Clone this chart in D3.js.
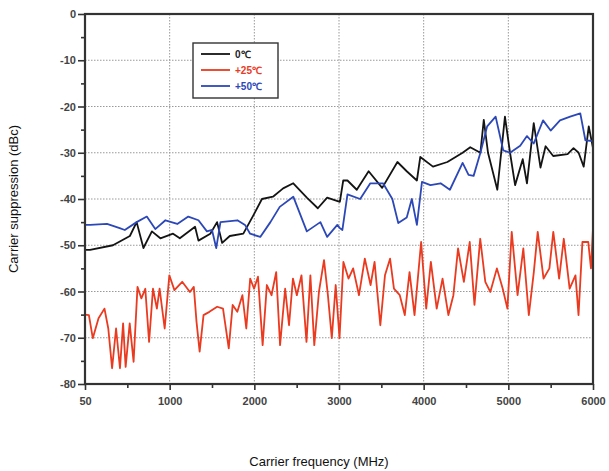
<!DOCTYPE html>
<html>
<head>
<meta charset="utf-8">
<script src="https://cdn.jsdelivr.net/npm/d3@7"></script>
<style>
  body { margin: 0; background: #fff; }
  text { font-family: "Liberation Sans", Arial, sans-serif; }
</style>
</head>
<body>
<svg class="chart" width="609" height="471"></svg>
<script>
const width = 609
const height = 471
const margin = { top: 14, right: 16, bottom: 87, left: 85 }

const xTicks = [0, 1000, 2000, 3000, 4000, 5000, 6000]
const xTickLabels = ['50', '1000', '2000', '3000', '4000', '5000', '6000']
const yTicks = [0, -10, -20, -30, -40, -50, -60, -70, -80]

const seriesNames = ['0\u2103', '+25\u2103', '+50\u2103']
const seriesColors = ['#141414', '#ea3a1f', '#2c48b8']

// 0 °C  [MHz, dBc]
const black = [
  [0, -51], [60, -51], [330, -50], [530, -48], [610, -45], [690, -50.6], [790, -47],
  [890, -48.5], [1040, -47.5], [1120, -48.5], [1300, -46], [1340, -49], [1480, -47.5],
  [1560, -45], [1620, -49.5], [1710, -48], [1870, -47.5], [1990, -43.5], [2090, -40],
  [2220, -39.5], [2340, -37.7], [2460, -36.6], [2620, -39.7], [2750, -42], [2860, -39.7],
  [3010, -40.6], [3050, -36], [3100, -36], [3210, -38], [3350, -34], [3510, -37.6],
  [3690, -32], [3800, -34], [3920, -36], [3960, -30.9], [4110, -33], [4280, -32],
  [4460, -30], [4550, -28.8], [4670, -30], [4710, -22.9], [4760, -30], [4870, -38],
  [4960, -22.2], [5020, -30], [5080, -37], [5170, -31.4], [5220, -36.6], [5300, -23.6],
  [5380, -33.2], [5440, -28.6], [5530, -30.7], [5700, -30.3], [5770, -29], [5830, -30],
  [5890, -33], [5950, -24.3], [6000, -29]
]

// +25 °C
const red = [
  [0, -65], [46, -65.1], [92, -70.1], [160, -65.8], [230, -63.7], [275, -68], [320, -76.6],
  [367, -68], [413, -76.6], [450, -66.9], [480, -76.3], [528, -66.9], [574, -75.2],
  [620, -59], [666, -61.5], [712, -59.4], [757, -70.9], [803, -59.4], [849, -63.7],
  [881, -59.4], [941, -68], [996, -56.5], [1056, -59.7], [1148, -57.9], [1239, -60.1],
  [1285, -59], [1317, -66.5], [1354, -73], [1400, -65.1], [1469, -64.4], [1561, -63.3],
  [1630, -63.7], [1698, -72.3], [1744, -62.9], [1799, -64.4], [1859, -60.8], [1905, -68],
  [1951, -57.2], [1997, -59.4], [2043, -56.8], [2098, -71.6], [2148, -58.6], [2203, -60.8],
  [2258, -55.8], [2304, -71.6], [2364, -59.4], [2410, -67.3], [2456, -57.2], [2502, -60.8],
  [2557, -56.5], [2616, -70.9], [2662, -56.5], [2708, -71.6], [2763, -60.1], [2823, -53.2],
  [2869, -60.8], [2915, -70.1], [2961, -58.6], [3006, -70.1], [3052, -53.6], [3112, -57.2],
  [3167, -55], [3236, -60.8], [3305, -52.9], [3373, -58.6], [3420, -53.6], [3488, -67.3],
  [3543, -56.5], [3603, -52.9], [3649, -59.4], [3718, -60.8], [3777, -65.1], [3833, -55.8],
  [3892, -65.1], [3970, -49.3], [4030, -63.7], [4085, -53.6], [4154, -63.7], [4223, -57.2],
  [4292, -65.1], [4351, -60.8], [4406, -50.7], [4475, -57.9], [4544, -49.3], [4600, -62.9],
  [4668, -48.6], [4728, -57.9], [4787, -60.1], [4865, -55], [4934, -59.4], [4989, -63.7],
  [5040, -47.1], [5109, -60.8], [5177, -50.7], [5242, -65.1], [5301, -55.8], [5347, -47.1],
  [5416, -57.2], [5485, -55], [5531, -47.1], [5600, -57.2], [5655, -48.6], [5724, -59.4],
  [5793, -56.5], [5829, -65.1], [5875, -49.3], [5944, -49.3], [5976, -55], [6000, -46.4]
]

// +50 °C
const blue = [
  [0, -45.6], [60, -45.6], [260, -45.4], [410, -46.3], [470, -46.7], [610, -45], [730, -43.8],
  [830, -46.5], [950, -44.6], [1090, -45.4], [1220, -43.8], [1340, -44.6], [1440, -47],
  [1500, -46.7], [1550, -50.6], [1600, -45], [1800, -44.6], [1890, -45.6], [1950, -47.5],
  [2070, -48.2], [2190, -45], [2300, -41.7], [2460, -39.5], [2620, -47], [2780, -45],
  [2860, -48.2], [2980, -45.6], [3010, -46.3], [3040, -46.7], [3100, -39], [3250, -40],
  [3370, -36.6], [3520, -36.6], [3630, -40], [3700, -45.2], [3800, -44], [3860, -40],
  [3920, -45.6], [3980, -36.3], [4080, -37], [4200, -36.6], [4310, -38], [4460, -32.2],
  [4530, -34.8], [4590, -35], [4670, -30], [4750, -24.3], [4850, -22.2], [4940, -29.5],
  [5020, -30], [5140, -28.5], [5220, -26.4], [5300, -28], [5410, -23], [5500, -25.2],
  [5610, -23], [5730, -22.2], [5850, -21.5], [5910, -27.3], [6000, -27.5]
]

const x = d3.scaleLinear().domain([0, 6000]).range([margin.left, width - margin.right])
const y = d3.scaleLinear().domain([0, -80]).range([margin.top, height - margin.bottom])

const svg = d3.select('.chart')

// grid
svg.append('g')
  .attr('stroke', '#999')
  .attr('stroke-dasharray', '1.5,1.5')
  .call(g => g.selectAll('line.v').data(xTicks.slice(1, -1)).join('line')
    .attr('x1', d => x(d)).attr('x2', d => x(d))
    .attr('y1', y(0)).attr('y2', y(-80)))
  .call(g => g.selectAll('line.h').data(yTicks.slice(1, -1)).join('line')
    .attr('class', 'h')
    .attr('x1', x(0)).attr('x2', x(6000))
    .attr('y1', d => y(d)).attr('y2', d => y(d)))

// series
const line = d3.line().x(d => x(d[0])).y(d => y(d[1]))
;[black, red, blue].forEach((data, i) => {
  svg.append('path')
    .datum(data)
    .attr('fill', 'none')
    .attr('stroke', seriesColors[i])
    .attr('stroke-width', 1.8)
    .attr('stroke-linejoin', 'round')
    .attr('d', line)
})

// axes
const xAxis = svg.append('g')
  .attr('transform', `translate(0,${y(-80)})`)
  .call(d3.axisBottom(x).tickValues(d3.range(0, 6001, 500)).tickSize(5)
    .tickFormat(d => { const k = xTicks.indexOf(d); return k >= 0 ? xTickLabels[k] : '' }))
xAxis.selectAll('.tick line').attr('y2', d => d % 1000 === 0 ? 6 : 4)

const yAxis = svg.append('g')
  .attr('transform', `translate(${x(0)},0)`)
  .call(d3.axisLeft(y).tickValues(d3.range(0, -81, -5)).tickSize(6)
    .tickFormat(d => yTicks.includes(d) ? d : ''))
yAxis.selectAll('.tick line').attr('x2', d => d % 10 === 0 ? -7 : -4)

;[xAxis, yAxis].forEach(g => {
  g.select('.domain').remove()
  g.selectAll('.tick line').attr('stroke', '#333').attr('stroke-width', 1.6)
  g.selectAll('text').attr('fill', '#444').attr('font-size', 11).attr('font-weight', 'bold')
    .attr('font-family', '"Liberation Sans", Arial, sans-serif')
})
xAxis.selectAll('text').attr('dy', '1.2em')

// frame
svg.append('rect')
  .attr('x', x(0)).attr('y', y(0))
  .attr('width', x(6000) - x(0)).attr('height', y(-80) - y(0))
  .attr('fill', 'none').attr('stroke', '#333').attr('stroke-width', 2.2)

// legend
const legend = svg.append('g').attr('transform', 'translate(193,43)')
legend.append('rect').attr('width', 85).attr('height', 55)
  .attr('fill', '#fff').attr('stroke', '#333').attr('stroke-width', 1.4)
seriesNames.forEach((name, i) => {
  const gy = 11 + i * 16
  legend.append('line').attr('x1', 8).attr('x2', 37).attr('y1', gy).attr('y2', gy)
    .attr('stroke', seriesColors[i]).attr('stroke-width', 1.8)
  legend.append('text').attr('x', 42).attr('y', gy + 4)
    .attr('font-size', 10).attr('font-weight', 'bold')
    .attr('fill', i === 0 ? '#222' : seriesColors[i]).text(name)
})

// titles
svg.append('text')
  .attr('x', 319).attr('y', 466)
  .attr('text-anchor', 'middle').attr('font-size', 13).attr('fill', '#111')
  .text('Carrier frequency (MHz)')
svg.append('text')
  .attr('transform', `translate(18,${(y(0) + y(-80)) / 2}) rotate(-90)`)
  .attr('text-anchor', 'middle').attr('font-size', 13).attr('fill', '#111')
  .text('Carrier suppression (dBc)')
</script>
</body>
</html>
